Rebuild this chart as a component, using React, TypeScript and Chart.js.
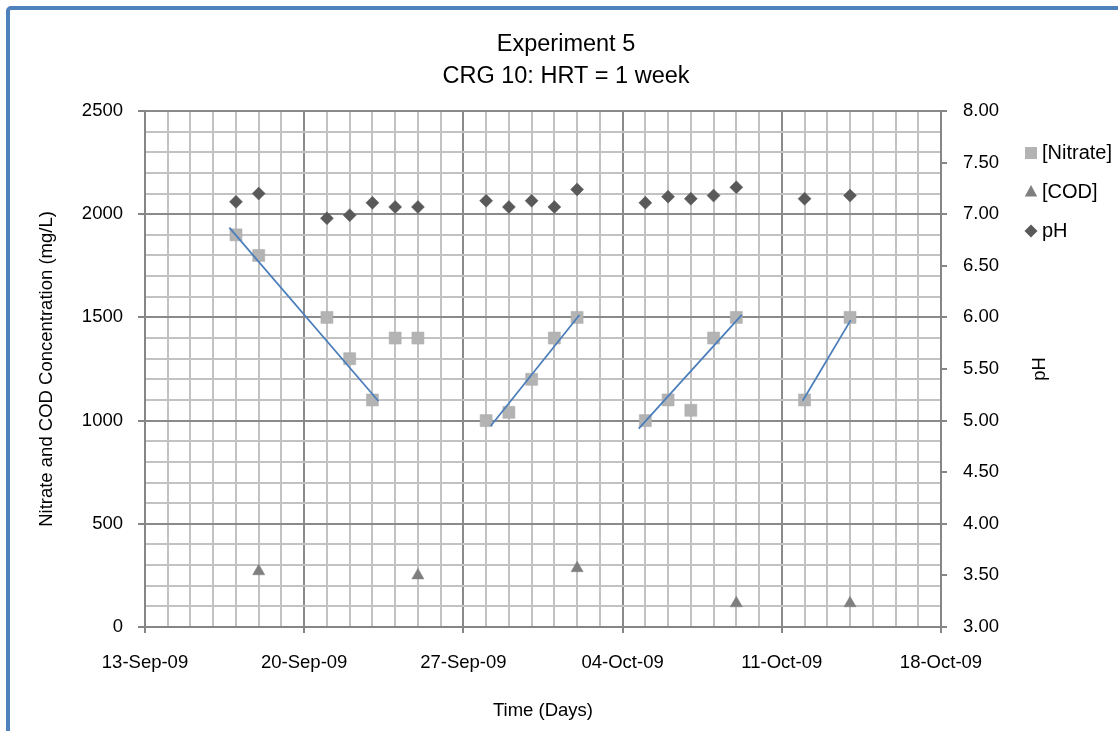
import React, { useEffect, useRef } from 'react';
import { Chart, registerables } from 'chart.js';

Chart.register(...registerables);

const FONT = '"Liberation Sans", Arial, sans-serif';

// Text
const titleLines = ['Experiment 5', 'CRG 10: HRT = 1 week'];
const xAxisTitle = 'Time (Days)';
const yAxisTitle = 'Nitrate and COD Concentration (mg/L)';
const y1AxisTitle = 'pH';
const legendLabels = ['[Nitrate]', '[COD]', 'pH'];

// X axis: days counted from 13-Sep-09, one labelled tick per week
const weekTickLabels = ['13-Sep-09', '20-Sep-09', '27-Sep-09', '04-Oct-09', '11-Oct-09', '18-Oct-09'];

// Nitrate (mg/L)
const nitrateDays = [4, 5, 8, 9, 10, 11, 12, 15, 16, 17, 18, 19, 22, 23, 24, 25, 26, 29, 31];
const nitrateValues = [1900, 1800, 1500, 1300, 1100, 1400, 1400, 1000, 1040, 1200, 1400, 1500, 1000, 1100, 1050, 1400, 1500, 1100, 1500];

// COD (mg/L)
const codDays = [5, 12, 19, 26, 31];
const codValues = [270, 250, 285, 115, 115];

// pH
const phDays = [4, 5, 8, 9, 10, 11, 12, 15, 16, 17, 18, 19, 22, 23, 24, 25, 26, 29, 31];
const phValues = [7.12, 7.2, 6.96, 6.99, 7.11, 7.07, 7.07, 7.13, 7.07, 7.13, 7.07, 7.24, 7.11, 7.17, 7.15, 7.18, 7.26, 7.15, 7.18];

// Linear trend lines for nitrate (endpoints)
const trend1Days = [3.71, 10.26];
const trend1Values = [1935, 1095];
const trend2Days = [15.2, 19.1];
const trend2Values = [974, 1512];
const trend3Days = [21.71, 26.24];
const trend3Values = [961, 1512];
const trend4Days = [28.92, 31.03];
const trend4Values = [1096, 1487];

const NITRATE_COLOR = '#b3b3b3';
const COD_COLOR = '#7f7f7f';
const PH_COLOR = '#595959';
const TREND_COLOR = '#4a7ebb';
const MAJOR_GRID = '#8a8a8a';
const MINOR_GRID = '#c2c2c2';
const AXIS_COLOR = '#868686';

const toPoints = (xs: number[], ys: number[]) => xs.map((x, i) => ({ x, y: ys[i] }));

const decorPlugin = {
  id: 'decor',
  afterDraw(chart: any) {
    const ctx = chart.ctx as CanvasRenderingContext2D;
    const { left, right, top, bottom } = chart.chartArea;
    ctx.save();
    ctx.fillStyle = '#000';
    ctx.textAlign = 'center';
    ctx.textBaseline = 'middle';
    ctx.font = `23.5px ${FONT}`;
    ctx.fillText(titleLines[0], 566, 45);
    ctx.fillText(titleLines[1], 566, 77);

    ctx.font = `18.5px ${FONT}`;
    ctx.fillText(xAxisTitle, (left + right) / 2, 711);

    ctx.save();
    ctx.translate(47, (top + bottom) / 2);
    ctx.rotate(-Math.PI / 2);
    ctx.fillText(yAxisTitle, 0, 0);
    ctx.restore();

    ctx.save();
    ctx.translate(1040, (top + bottom) / 2);
    ctx.rotate(-Math.PI / 2);
    ctx.fillText(y1AxisTitle, 0, 0);
    ctx.restore();

    // legend
    const ys = [153, 192, 231];
    const mx = 1031;
    ctx.font = `20px ${FONT}`;
    ctx.textAlign = 'left';
    legendLabels.forEach((label, i) => {
      const y = ys[i];
      ctx.beginPath();
      if (i === 0) {
        ctx.fillStyle = NITRATE_COLOR;
        ctx.rect(mx - 6, y - 6, 12, 12);
      } else if (i === 1) {
        ctx.fillStyle = COD_COLOR;
        ctx.moveTo(mx, y - 7);
        ctx.lineTo(mx + 6.2, y + 4.5);
        ctx.lineTo(mx - 6.2, y + 4.5);
        ctx.closePath();
      } else {
        ctx.fillStyle = PH_COLOR;
        ctx.moveTo(mx - 6.5, y);
        ctx.lineTo(mx, y - 6.5);
        ctx.lineTo(mx + 6.5, y);
        ctx.lineTo(mx, y + 6.5);
        ctx.closePath();
      }
      ctx.fill();
      ctx.fillStyle = '#000';
      ctx.fillText(label, 1042, y);
    });
    ctx.restore();
  },
};

export default function App() {
  const canvasRef = useRef<HTMLCanvasElement | null>(null);

  useEffect(() => {
    if (!canvasRef.current) return;
    const trendStyle = {
      type: 'line' as const,
      showLine: true,
      borderColor: TREND_COLOR,
      borderWidth: 1.75,
      pointRadius: 0,
      fill: false,
      order: 0,
      xAxisID: 'x',
      yAxisID: 'y',
    };
    const chart = new Chart(canvasRef.current, {
      type: 'scatter',
      data: {
        datasets: [
          { ...trendStyle, label: 'trend1', data: toPoints(trend1Days, trend1Values) },
          { ...trendStyle, label: 'trend2', data: toPoints(trend2Days, trend2Values) },
          { ...trendStyle, label: 'trend3', data: toPoints(trend3Days, trend3Values) },
          { ...trendStyle, label: 'trend4', data: toPoints(trend4Days, trend4Values) },
          {
            label: legendLabels[0],
            data: toPoints(nitrateDays, nitrateValues),
            pointStyle: 'rect',
            pointRadius: 8.5,
            backgroundColor: NITRATE_COLOR,
            borderColor: '#ababab',
            borderWidth: 0.5,
            order: 1,
            yAxisID: 'y',
          },
          {
            label: legendLabels[1],
            data: toPoints(codDays, codValues),
            pointStyle: 'triangle',
            pointRadius: 7,
            backgroundColor: COD_COLOR,
            borderColor: COD_COLOR,
            borderWidth: 0.5,
            order: 1,
            yAxisID: 'y',
          },
          {
            label: legendLabels[2],
            data: toPoints(phDays, phValues),
            pointStyle: 'rectRot',
            pointRadius: 6.5,
            backgroundColor: PH_COLOR,
            borderColor: PH_COLOR,
            borderWidth: 0.5,
            order: 1,
            yAxisID: 'y1',
          },
        ],
      },
      options: {
        responsive: false,
        animation: false,
        events: [],
        layout: { padding: { top: 111, left: 0, right: 0, bottom: 0 } },
        plugins: {
          legend: { display: false },
          title: { display: false },
          tooltip: { enabled: false },
        },
        scales: {
          x: {
            type: 'linear',
            min: 0,
            max: 35,
            afterFit: (s: any) => { s.height = 104; },
            ticks: {
              stepSize: 1,
              autoSkip: false,
              maxRotation: 0,
              minRotation: 0,
              padding: 19,
              color: '#000',
              font: { family: FONT, size: 18.5 },
              callback: (v: any) => (Number(v) % 7 === 0 ? weekTickLabels[Number(v) / 7] : ''),
            },
            grid: {
              color: (c: any) => (c.tick && c.tick.value % 7 === 0 ? MAJOR_GRID : MINOR_GRID),
              lineWidth: 2,
              tickLength: 6,
              tickColor: (c: any) => (c.tick && c.tick.value % 7 === 0 ? AXIS_COLOR : 'rgba(0,0,0,0)'),
            },
            border: { display: true, color: AXIS_COLOR, width: 2 },
          },
          y: {
            type: 'linear',
            position: 'left',
            min: 0,
            max: 2500,
            afterFit: (s: any) => { s.width = 145; },
            ticks: {
              stepSize: 100,
              autoSkip: false,
              padding: 15,
              color: '#000',
              font: { family: FONT, size: 18.5 },
              callback: (v: any) => (Number(v) % 500 === 0 ? String(v) : ''),
            },
            grid: {
              color: (c: any) => (c.tick && c.tick.value % 500 === 0 ? MAJOR_GRID : MINOR_GRID),
              lineWidth: 2,
              tickLength: 7,
              tickColor: (c: any) => (c.tick && c.tick.value % 500 === 0 ? AXIS_COLOR : 'rgba(0,0,0,0)'),
            },
            border: { display: true, color: AXIS_COLOR, width: 2 },
          },
          y1: {
            type: 'linear',
            position: 'right',
            min: 3,
            max: 8,
            afterFit: (s: any) => { s.width = 177; },
            ticks: {
              stepSize: 0.5,
              autoSkip: false,
              padding: 16,
              color: '#000',
              font: { family: FONT, size: 18.5 },
              callback: (v: any) => Number(v).toFixed(2),
            },
            grid: {
              drawOnChartArea: false,
              tickLength: 6,
              lineWidth: 2,
              tickColor: AXIS_COLOR,
            },
            border: { display: true, color: AXIS_COLOR, width: 2 },
          },
        },
      },
      plugins: [decorPlugin],
    } as any);
    return () => chart.destroy();
  }, []);

  return (
    <div style={{ position: 'fixed', left: 0, top: 0, width: 1118, height: 731, overflow: 'hidden', background: '#fff' }}>
      <div
        style={{
          position: 'absolute',
          left: 6,
          top: 6,
          width: 1400,
          height: 1000,
          border: '4px solid #4f81bd',
          borderRadius: 5,
          boxSizing: 'border-box',
        }}
      />
      <canvas
        ref={canvasRef}
        width={1118}
        height={731}
        style={{ position: 'absolute', left: 0, top: 0, width: 1118, height: 731 }}
      />
    </div>
  );
}
